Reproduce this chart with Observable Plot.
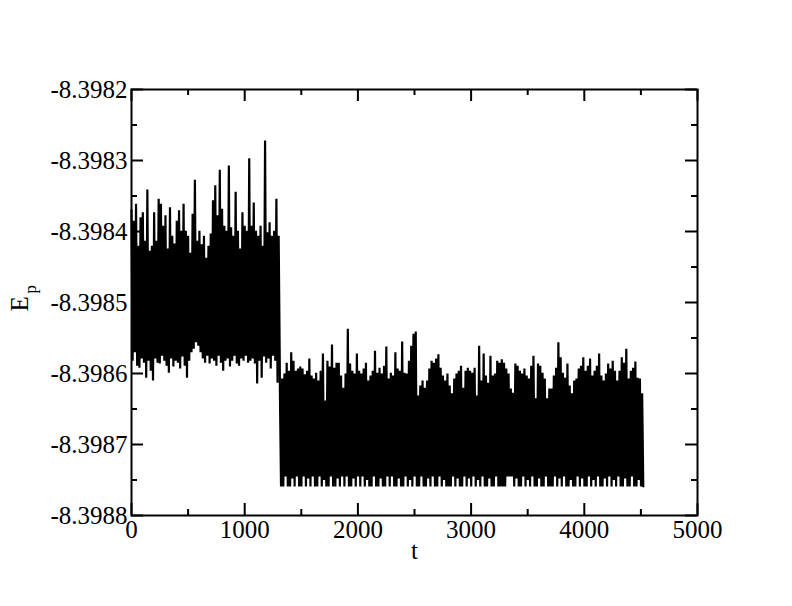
<!DOCTYPE html>
<html>
<head>
<meta charset="utf-8">
<script src="https://cdn.jsdelivr.net/npm/d3@7"></script>
<script src="https://cdn.jsdelivr.net/npm/@observablehq/plot@0.6"></script>
<style>
  html, body { margin: 0; padding: 0; background: #fff; }
  #chart { width: 792px; height: 606px; }
  #chart svg, #chart svg text { font-family: "Liberation Serif", serif !important; }
</style>
</head>
<body>
<div id="chart"></div>
<script>
// Axis ticks
const xMajor = [0, 1000, 2000, 3000, 4000, 5000];
const xMinor = [500, 1500, 2500, 3500, 4500];
const yMajor = [-8.3988, -8.3987, -8.3986, -8.3985, -8.3984, -8.3983, -8.3982];
const yMinor = [-8.39875, -8.39865, -8.39855, -8.39845, -8.39835, -8.39825];

// Sampling: each column has a high then a low sample, 10 time units apart
const colStep = 20;
const seg1Start = 0;
const seg2Start = 1311;

// Segment 1 (t ≈ 0 – 1310): upper and lower swings of E_p
const seg1High = [
-8.398370,-8.398385,-8.398361,-8.398420,-8.398380,-8.398373,-8.398413,-8.398341,-8.398427,-8.398420,
-8.398373,-8.398413,-8.398354,-8.398361,-8.398392,-8.398377,-8.398424,-8.398366,-8.398406,-8.398417,
-8.398385,-8.398370,-8.398399,-8.398361,-8.398399,-8.398406,-8.398430,-8.398375,-8.398327,-8.398413,
-8.398399,-8.398418,-8.398406,-8.398437,-8.398420,-8.398403,-8.398356,-8.398335,-8.398377,-8.398313,
-8.398368,-8.398392,-8.398399,-8.398307,-8.398394,-8.398406,-8.398344,-8.398399,-8.398424,-8.398373,
-8.398392,-8.398399,-8.398297,-8.398392,-8.398359,-8.398399,-8.398406,-8.398392,-8.398420,-8.398272,
-8.398401,-8.398387,-8.398406,-8.398399,-8.398354,-8.398406];
const seg1Low = [
-8.398582,-8.398570,-8.398589,-8.398592,-8.398579,-8.398585,-8.398606,-8.398582,-8.398596,-8.398610,
-8.398579,-8.398585,-8.398586,-8.398575,-8.398582,-8.398589,-8.398599,-8.398579,-8.398590,-8.398582,
-8.398585,-8.398593,-8.398576,-8.398589,-8.398606,-8.398582,-8.398570,-8.398565,-8.398556,-8.398561,
-8.398570,-8.398579,-8.398585,-8.398575,-8.398586,-8.398579,-8.398582,-8.398589,-8.398575,-8.398585,
-8.398596,-8.398582,-8.398579,-8.398590,-8.398582,-8.398575,-8.398586,-8.398589,-8.398579,-8.398582,
-8.398575,-8.398585,-8.398582,-8.398579,-8.398586,-8.398614,-8.398582,-8.398606,-8.398576,-8.398585,
-8.398579,-8.398593,-8.398575,-8.398582,-8.398613,-8.398589];

// Segment 2 (t ≈ 1311 – 4521)
const seg2High = [
-8.398624,-8.398607,-8.398600,-8.398585,-8.398596,-8.398570,-8.398582,-8.398596,-8.398593,-8.398590,
-8.398593,-8.398601,-8.398596,-8.398579,-8.398603,-8.398607,-8.398599,-8.398610,-8.398596,-8.398572,
-8.398638,-8.398582,-8.398590,-8.398559,-8.398592,-8.398585,-8.398585,-8.398603,-8.398620,-8.398600,
-8.398537,-8.398586,-8.398596,-8.398600,-8.398572,-8.398596,-8.398600,-8.398593,-8.398585,-8.398610,
-8.398603,-8.398596,-8.398568,-8.398599,-8.398592,-8.398600,-8.398589,-8.398562,-8.398607,-8.398599,
-8.398603,-8.398570,-8.398593,-8.398596,-8.398555,-8.398599,-8.398600,-8.398582,-8.398561,-8.398544,
-8.398541,-8.398631,-8.398617,-8.398610,-8.398620,-8.398610,-8.398593,-8.398582,-8.398585,-8.398579,
-8.398573,-8.398592,-8.398603,-8.398610,-8.398600,-8.398617,-8.398628,-8.398607,-8.398600,-8.398596,
-8.398589,-8.398620,-8.398596,-8.398592,-8.398596,-8.398599,-8.398592,-8.398631,-8.398561,-8.398610,
-8.398572,-8.398603,-8.398613,-8.398575,-8.398603,-8.398600,-8.398582,-8.398585,-8.398580,-8.398585,
-8.398593,-8.398600,-8.398621,-8.398627,-8.398586,-8.398589,-8.398596,-8.398600,-8.398593,-8.398603,
-8.398607,-8.398589,-8.398575,-8.398635,-8.398586,-8.398589,-8.398599,-8.398607,-8.398635,-8.398621,
-8.398621,-8.398603,-8.398592,-8.398556,-8.398577,-8.398599,-8.398606,-8.398586,-8.398617,-8.398628,
-8.398610,-8.398607,-8.398593,-8.398589,-8.398577,-8.398596,-8.398589,-8.398579,-8.398603,-8.398596,
-8.398589,-8.398572,-8.398603,-8.398610,-8.398600,-8.398586,-8.398593,-8.398582,-8.398596,-8.398610,
-8.398596,-8.398577,-8.398585,-8.398565,-8.398607,-8.398596,-8.398592,-8.398583,-8.398606,-8.398607,
-8.398628];
const seg2Low = [
-8.398759,-8.398759,-8.398745,-8.398759,-8.398759,-8.398748,-8.398759,-8.398745,-8.398759,-8.398759,
-8.398745,-8.398759,-8.398748,-8.398759,-8.398745,-8.398759,-8.398759,-8.398745,-8.398759,-8.398750,
-8.398759,-8.398759,-8.398745,-8.398759,-8.398759,-8.398748,-8.398759,-8.398745,-8.398759,-8.398745,
-8.398759,-8.398759,-8.398748,-8.398759,-8.398745,-8.398759,-8.398745,-8.398759,-8.398750,-8.398759,
-8.398759,-8.398745,-8.398759,-8.398759,-8.398748,-8.398759,-8.398759,-8.398745,-8.398759,-8.398745,
-8.398759,-8.398759,-8.398748,-8.398759,-8.398759,-8.398745,-8.398759,-8.398750,-8.398759,-8.398745,
-8.398759,-8.398759,-8.398745,-8.398759,-8.398759,-8.398748,-8.398759,-8.398745,-8.398759,-8.398759,
-8.398745,-8.398759,-8.398750,-8.398759,-8.398759,-8.398759,-8.398745,-8.398759,-8.398748,-8.398759,
-8.398759,-8.398745,-8.398759,-8.398748,-8.398759,-8.398745,-8.398759,-8.398750,-8.398759,-8.398745,
-8.398759,-8.398759,-8.398748,-8.398759,-8.398759,-8.398745,-8.398759,-8.398759,-8.398759,-8.398759,
-8.398745,-8.398745,-8.398745,-8.398759,-8.398748,-8.398759,-8.398759,-8.398745,-8.398759,-8.398750,
-8.398759,-8.398745,-8.398759,-8.398759,-8.398748,-8.398759,-8.398759,-8.398745,-8.398759,-8.398759,
-8.398759,-8.398745,-8.398759,-8.398748,-8.398759,-8.398745,-8.398759,-8.398759,-8.398750,-8.398759,
-8.398759,-8.398745,-8.398759,-8.398748,-8.398759,-8.398759,-8.398745,-8.398759,-8.398750,-8.398759,
-8.398745,-8.398759,-8.398759,-8.398748,-8.398759,-8.398745,-8.398759,-8.398750,-8.398759,-8.398745,
-8.398759,-8.398759,-8.398748,-8.398759,-8.398759,-8.398745,-8.398759,-8.398759,-8.398750,-8.398759,
-8.398759];

// Build the time series table
const series = [];
function addSegment(start, highs, lows) {
  highs.forEach((h, i) => {
    series.push({t: start + i * colStep, E: h});
    series.push({t: start + i * colStep + colStep / 2, E: lows[i]});
  });
}
addSegment(seg1Start, seg1High, seg1Low);
addSegment(seg2Start, seg2High, seg2Low);

const W = 792, H = 606;
const mL = 131, mR = 95, mT = 89, mB = 91;
const plotW = W - mL - mR, plotH = H - mT - mB;
const majorLen = 12, minorLen = 6;
const font = "Liberation Serif, serif";

const chart = Plot.plot({
  width: W,
  height: H,
  marginLeft: mL,
  marginRight: mR,
  marginTop: mT,
  marginBottom: mB,
  style: {fontFamily: font, fontSize: "25px", background: "#fff", color: "#000"},
  x: {domain: [0, 5000]},
  y: {domain: [-8.3988, -8.3982]},
  marks: [
    Plot.line(series, {x: "t", y: "E", stroke: "#000", strokeWidth: 2.2, strokeLinejoin: "bevel"}),
    // bottom ticks
    Plot.ruleX(xMajor, {x: d => d, insetTop: plotH - majorLen, stroke: "#000", strokeWidth: 2}),
    Plot.ruleX(xMinor, {x: d => d, insetTop: plotH - minorLen, stroke: "#000", strokeWidth: 2}),
    // top ticks
    Plot.ruleX(xMajor, {x: d => d, insetBottom: plotH - majorLen, stroke: "#000", strokeWidth: 2}),
    Plot.ruleX(xMinor, {x: d => d, insetBottom: plotH - minorLen, stroke: "#000", strokeWidth: 2}),
    // left ticks
    Plot.ruleY(yMajor, {y: d => d, insetRight: plotW - majorLen, stroke: "#000", strokeWidth: 2}),
    Plot.ruleY(yMinor, {y: d => d, insetRight: plotW - minorLen, stroke: "#000", strokeWidth: 2}),
    // right ticks
    Plot.ruleY(yMajor, {y: d => d, insetLeft: plotW - majorLen, stroke: "#000", strokeWidth: 2}),
    Plot.ruleY(yMinor, {y: d => d, insetLeft: plotW - minorLen, stroke: "#000", strokeWidth: 2}),
    Plot.frame({stroke: "#000", strokeWidth: 2}),
    Plot.axisX({ticks: xMajor, tickSize: 0, tickPadding: 5, tickFormat: d => String(d), label: null, fontSize: 25, fontFamily: font, fill: "#000"}),
    Plot.axisY({ticks: yMajor, tickSize: 0, tickPadding: 4, tickFormat: d => d.toFixed(4), label: null, fontSize: 25, fontFamily: font, fill: "#000"}),
    Plot.text(["t"], {frameAnchor: "bottom", text: d => d, dy: 43, fontSize: 25, fontFamily: font, fill: "#000"}),
    Plot.text(["E"], {frameAnchor: "left", text: d => d, rotate: -90, dx: -112, dy: 9, fontSize: 25, fontFamily: font, fill: "#000"}),
    Plot.text(["p"], {frameAnchor: "left", text: d => d, rotate: -90, dx: -101, dy: -9, fontSize: 17, fontFamily: font, fill: "#000"})
  ]
});
document.getElementById("chart").appendChild(chart);
</script>
</body>
</html>
